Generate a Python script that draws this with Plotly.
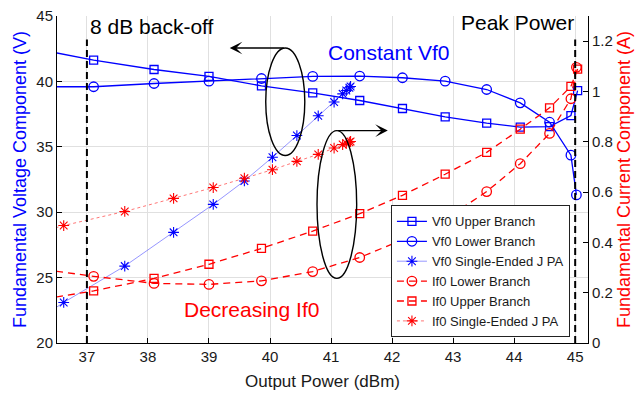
import plotly.graph_objects as go

# ---------------- data ----------------
x_upper = [36.3, 37.11, 38.10, 39.00, 39.86, 40.70, 41.47, 42.17, 42.87, 43.55, 44.10, 44.58, 44.93, 45.04]
x_lower = [36.3, 37.11, 38.10, 39.00, 39.86, 40.70, 41.47, 42.17, 42.87, 43.55, 44.10, 44.58, 44.93, 45.02]
x_se = [36.3, 36.62, 37.62, 38.42, 39.07, 39.58, 40.04, 40.44, 40.79, 41.05, 41.19, 41.25, 41.30, 41.32]

vf0_upper = [42.36, 41.63, 40.91, 40.38, 39.66, 39.13, 38.54, 37.93, 37.29, 36.81, 36.50, 36.55, 37.39, 39.30]
vf0_lower = [39.59, 39.59, 39.84, 40.02, 40.22, 40.38, 40.41, 40.28, 40.02, 39.38, 38.36, 36.88, 34.36, 31.32]
vf0_se = [22.11, 23.10, 25.88, 28.46, 30.60, 32.39, 34.20, 35.86, 37.37, 38.42, 39.05, 39.30, 39.51, 39.61]

if0_lower = [0.292, 0.265, 0.237, 0.233, 0.247, 0.284, 0.340, 0.410, 0.492, 0.602, 0.713, 0.833, 0.971, 1.096]
if0_upper = [0.175, 0.207, 0.257, 0.313, 0.376, 0.445, 0.514, 0.587, 0.671, 0.758, 0.850, 0.935, 1.020, 1.089]
if0_se = [0.445, 0.467, 0.523, 0.575, 0.618, 0.655, 0.689, 0.722, 0.750, 0.775, 0.789, 0.794, 0.798, 0.801]

x_ticks = [37, 38, 39, 40, 41, 42, 43, 44, 45]
v_ticks = [20, 25, 30, 35, 40, 45]
i_ticks = [0, 0.2, 0.4, 0.6, 0.8, 1.0, 1.2]

BLUE = "#0000ff"
RED = "#ff0000"
FONT = "Liberation Sans, Arial, Helvetica, sans-serif"

fig = go.Figure()

fig.add_trace(go.Scatter(
    x=x_upper, y=vf0_upper, name="Vf0 Upper Branch", mode="lines+markers",
    line=dict(color=BLUE, width=1.3),
    marker=dict(symbol="square-open", size=8, color=BLUE, line=dict(width=1.3, color=BLUE)),
))
fig.add_trace(go.Scatter(
    x=x_lower, y=vf0_lower, name="Vf0 Lower Branch", mode="lines+markers",
    line=dict(color=BLUE, width=1.3),
    marker=dict(symbol="circle-open", size=9.5, color=BLUE, line=dict(width=1.3, color=BLUE)),
))
fig.add_trace(go.Scatter(
    x=x_se, y=vf0_se, name="Vf0 Single-Ended J PA", mode="lines+markers",
    line=dict(color="rgba(60,60,255,0.6)", width=0.9),
    marker=dict(symbol="asterisk-open", size=9, color=BLUE, line=dict(width=1.1, color=BLUE)),
))
fig.add_trace(go.Scatter(
    x=x_lower, y=if0_lower, name="If0 Lower Branch", mode="lines+markers", yaxis="y2",
    line=dict(color=RED, width=1.3, dash="7px,5px"),
    marker=dict(symbol="circle-open", size=9.5, color=RED, line=dict(width=1.3, color=RED)),
))
fig.add_trace(go.Scatter(
    x=x_upper, y=if0_upper, name="If0 Upper Branch", mode="lines+markers", yaxis="y2",
    line=dict(color=RED, width=1.3, dash="7px,5px"),
    marker=dict(symbol="square-open", size=8, color=RED, line=dict(width=1.3, color=RED)),
))
fig.add_trace(go.Scatter(
    x=x_se, y=if0_se, name="If0 Single-Ended J PA", mode="lines+markers", yaxis="y2",
    line=dict(color="rgba(255,60,60,0.7)", width=1, dash="dot"),
    marker=dict(symbol="asterisk-open", size=9, color=RED, line=dict(width=1.1, color=RED)),
))

shapes = [
    # back-off / peak power markers
    dict(type="line", xref="x", yref="y", x0=37, x1=37, y0=20, y1=43.2,
         line=dict(color="black", width=2, dash="7px,4px")),
    dict(type="line", xref="x", yref="y", x0=45, x1=45, y0=20, y1=43.2,
         line=dict(color="black", width=2, dash="7px,4px")),
    # ellipses
    dict(type="circle", xref="x", yref="y", x0=39.93, x1=40.57, y0=34.33, y1=42.55,
         line=dict(color="black", width=1.4)),
    dict(type="circle", xref="x", yref="y", x0=40.77, x1=41.42, y0=24.94, y1=36.24,
         line=dict(color="black", width=1.4)),
]

annotations = [
    dict(x=39.34, y=42.55, ax=40.25, ay=42.55, xref="x", yref="y", axref="x", ayref="y",
         text="", showarrow=True, arrowhead=3, arrowsize=1.5, arrowwidth=1.4, arrowcolor="black"),
    dict(x=41.93, y=36.24, ax=41.09, ay=36.24, xref="x", yref="y", axref="x", ayref="y",
         text="", showarrow=True, arrowhead=3, arrowsize=1.5, arrowwidth=1.4, arrowcolor="black"),
    dict(x=37.02, y=44.17, xref="x", yref="y", text="8 dB back-off", showarrow=False,
         xanchor="left", yanchor="middle", font=dict(size=21, color="black", family=FONT)),
    dict(x=45.02, y=44.5, xref="x", yref="y", text="Peak Power", showarrow=False,
         xanchor="right", yanchor="middle", font=dict(size=21, color="black", family=FONT)),
    dict(x=40.91, y=42.22, xref="x", yref="y", text="Constant Vf0", showarrow=False,
         xanchor="left", yanchor="middle", font=dict(size=21, color=BLUE, family=FONT)),
    dict(x=38.56, y=22.53, xref="x", yref="y", text="Decreasing If0", showarrow=False,
         xanchor="left", yanchor="middle", font=dict(size=21, color=RED, family=FONT)),
]

fig.update_layout(
    width=636, height=395,
    margin=dict(l=57, r=48, t=16, b=52),
    paper_bgcolor="white", plot_bgcolor="white",
    font=dict(family=FONT, size=15, color="#1a1a1a"),
    shapes=shapes, annotations=annotations,
    showlegend=True,
    legend=dict(
        x=0.966, y=0.017, xanchor="right", yanchor="bottom",
        bgcolor="white", bordercolor="#222", borderwidth=1,
        font=dict(size=13, family=FONT, color="#1a1a1a"),
        tracegroupgap=0, itemwidth=30,
    ),
    xaxis=dict(
        range=[36.51, 45.21], tickvals=x_ticks, ticks="inside", ticklen=5, tickcolor="black",
        showline=True, linecolor="black", linewidth=1, showgrid=True, gridcolor="#e0e0e0",
        zeroline=False, automargin=False,
        title=dict(text="Output Power (dBm)", font=dict(size=17), standoff=11),
        tickfont=dict(size=15),
    ),
    yaxis=dict(
        range=[20, 45], tickvals=v_ticks, ticks="inside", ticklen=5, tickcolor="black",
        showline=True, linecolor="black", linewidth=1, showgrid=True, gridcolor="#e0e0e0",
        zeroline=False, automargin=False,
        title=dict(text="Fundamental Voltage Component (V)",
                   font=dict(size=18, color=BLUE), standoff=5),
        tickfont=dict(size=15),
    ),
    yaxis2=dict(
        range=[0, 1.3], tickvals=i_ticks, overlaying="y", side="right",
        ticks="inside", ticklen=5, tickcolor="black",
        showline=True, linecolor="black", linewidth=1, showgrid=False, zeroline=False,
        automargin=False,
        title=dict(text="Fundamental Current Component (A)",
                   font=dict(size=18, color=RED), standoff=5),
        tickfont=dict(size=15),
    ),
)

fig.write_html("out.html")
